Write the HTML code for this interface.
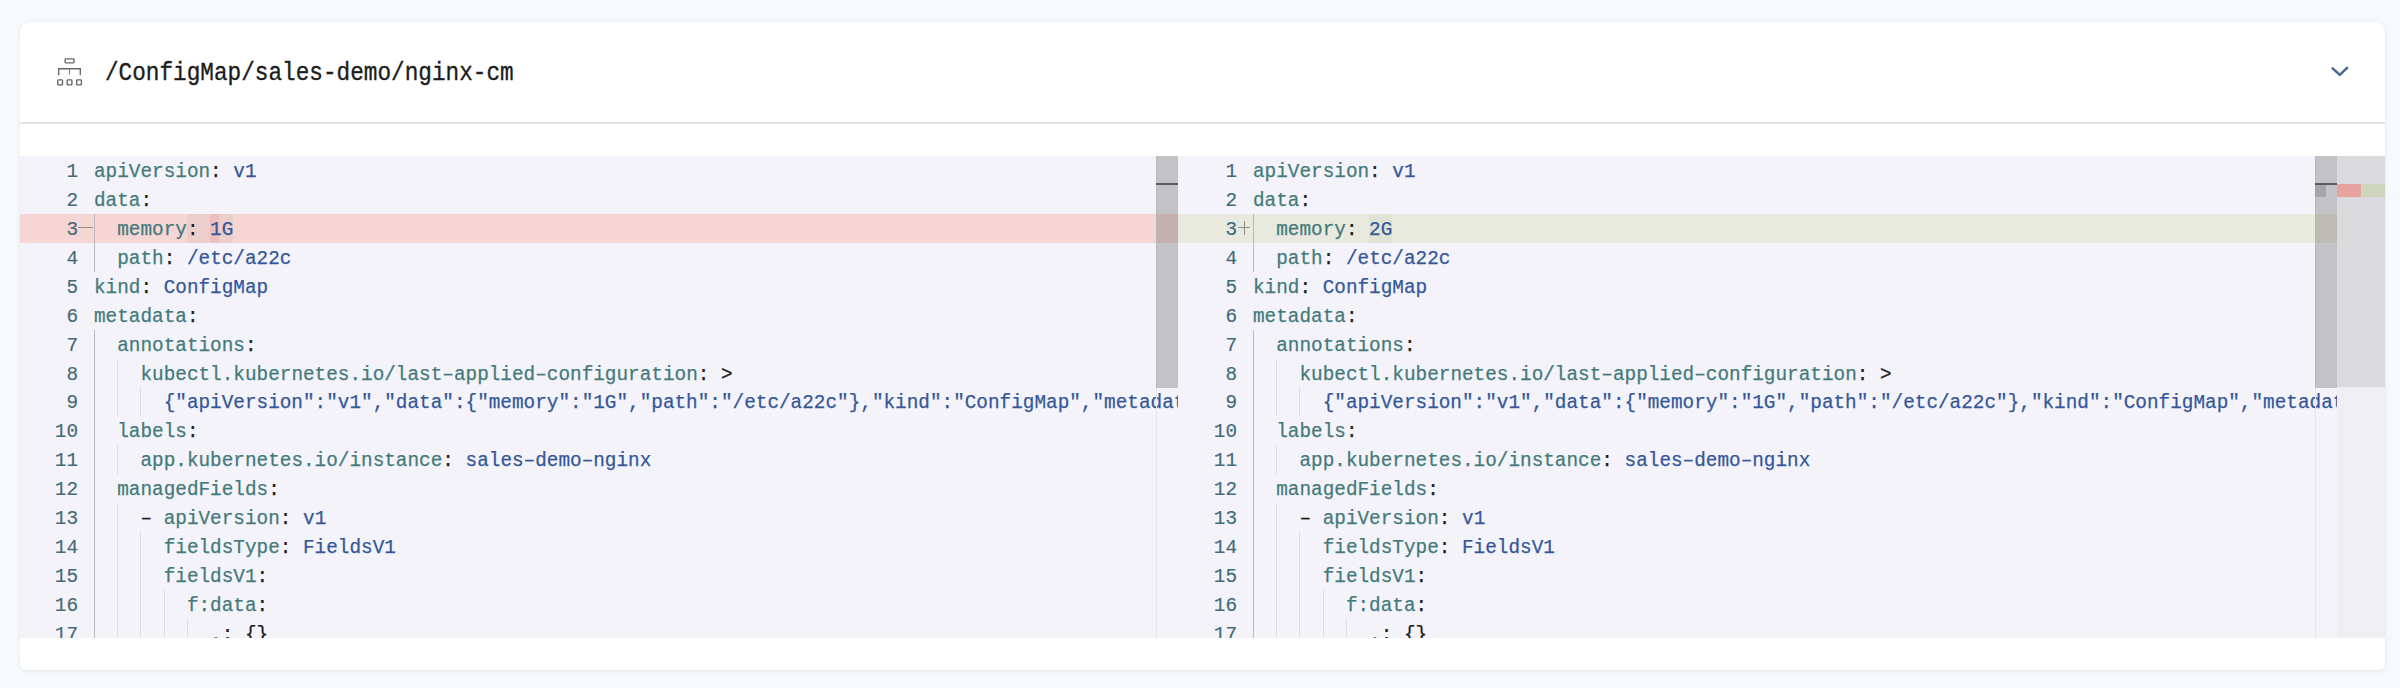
<!DOCTYPE html>
<html><head><meta charset="utf-8">
<style>
*{margin:0;padding:0;box-sizing:border-box}
html,body{width:2400px;height:688px;overflow:hidden;background:#f6fafc}
.card{position:absolute;left:20px;top:22px;width:2365px;height:648px;background:#fff;border-radius:10px 10px 6px 6px;box-shadow:0 1px 3px rgba(0,0,0,0.07),0 0 8px rgba(30,50,80,0.04)}
.hdr-line{position:absolute;left:20px;top:122.4px;width:2365px;height:2px;background:#e1e2e4}
.title{position:absolute;left:105px;top:52.5px;height:40px;font-family:"Liberation Mono",monospace;font-size:26.5px;line-height:40px;color:#1c1c1c;white-space:pre;transform-origin:0 0;transform:scaleX(0.8565);-webkit-text-stroke:0.35px #1c1c1c}
.ed{position:absolute;top:156px;height:482px;overflow:hidden;background:#f3f3f9}
.ln{position:absolute;height:28.93px;white-space:pre}
.tx{font-family:"Liberation Mono",monospace;font-size:20.5px;line-height:28.93px;transform-origin:0 0;transform:translateY(2.4px) scaleX(0.94376);white-space:pre;-webkit-text-stroke:0.25px currentColor}
.k{color:#447a7b} .v{color:#35579a} .p{color:#1e1e1e}
.num{position:absolute;width:60px;text-align:right;height:28.93px;font-family:"Liberation Mono",monospace;font-size:20.5px;line-height:28.93px;color:#426a78;white-space:pre;transform-origin:100% 0;transform:translateY(2.4px) scaleX(0.94376);-webkit-text-stroke:0.15px currentColor}
.num span{display:inline-block}
.ig{position:absolute;width:1px;height:28.93px;background:#dcdce2}
.ig.act{background:#b8b8bf}
</style></head><body>
<div class="card"></div>
<div class="hdr-line"></div>
<svg style="position:absolute;left:54px;top:55px" width="32" height="34" viewBox="54 55 32 34">
 <g fill="none" stroke="#666" stroke-width="1.35">
  <rect x="65.1" y="58.9" width="8.9" height="3.9" rx="0.7"/>
  <path d="M58.7 75.2 V68.7 H80.3 V75.2"/>
  <rect x="57.8" y="79.9" width="4.7" height="5" rx="0.7"/>
  <rect x="67.2" y="79.9" width="4.7" height="5" rx="0.7"/>
  <rect x="76.7" y="79.9" width="4.7" height="5" rx="0.7"/>
 </g>
 <path d="M69.5 68.7 V74.6" stroke="#8a8a8a" stroke-width="1.2"/>
</svg>
<div class="title">/ConfigMap/sales-demo/nginx-cm</div>
<svg style="position:absolute;left:2328px;top:62px" width="24" height="18" viewBox="0 0 24 18">
 <path d="M4.6 6.4 L11.8 12.9 L19.1 5.8" fill="none" stroke="#48698a" stroke-width="2.5" stroke-linecap="round" stroke-linejoin="round"/>
</svg>

<!-- left editor -->
<div class="ed" style="left:20px;width:1158px">
 <div style="position:absolute;left:0;top:57.86px;width:1158px;height:28.93px;background:#f5d6d4"></div>
 <div style="position:absolute;left:166.9px;top:57.86px;width:46.4px;height:28.93px;background:rgba(110,80,80,0.06)"></div>
 <div style="position:absolute;left:190.1px;top:57.86px;width:9px;height:28.93px;background:rgba(255,40,40,0.08)"></div>
 <div style="position:absolute;left:58px;top:71.36px;width:14.5px;height:1px;background:#a88a8a"></div>
 <div class="ln" style="top:0.0px;left:74px"><div class="tx"><span class="k">apiVersion</span><span class="p">:</span><span class="v"> v1</span></div></div>
<div class="num" style="top:0.0px;left:-2px">1</div>
<div class="ln" style="top:28.93px;left:74px"><div class="tx"><span class="k">data</span><span class="p">:</span></div></div>
<div class="num" style="top:28.93px;left:-2px">2</div>
<div class="ln" style="top:57.86px;left:74px"><div class="tx">  <span class="k">memory</span><span class="p">:</span><span class="v"> 1G</span></div></div>
<div class="num" style="top:57.86px;left:-2px">3</div>
<div class="ig act" style="top:57.86px;left:74.00px"></div>
<div class="ln" style="top:86.78999999999999px;left:74px"><div class="tx">  <span class="k">path</span><span class="p">:</span><span class="v"> /etc/a22c</span></div></div>
<div class="num" style="top:86.78999999999999px;left:-2px">4</div>
<div class="ig act" style="top:86.78999999999999px;left:74.00px"></div>
<div class="ln" style="top:115.72px;left:74px"><div class="tx"><span class="k">kind</span><span class="p">:</span><span class="v"> ConfigMap</span></div></div>
<div class="num" style="top:115.72px;left:-2px">5</div>
<div class="ln" style="top:144.65px;left:74px"><div class="tx"><span class="k">metadata</span><span class="p">:</span></div></div>
<div class="num" style="top:144.65px;left:-2px">6</div>
<div class="ln" style="top:173.57999999999998px;left:74px"><div class="tx">  <span class="k">annotations</span><span class="p">:</span></div></div>
<div class="num" style="top:173.57999999999998px;left:-2px">7</div>
<div class="ig act" style="top:173.57999999999998px;left:74.00px"></div>
<div class="ln" style="top:202.51px;left:74px"><div class="tx">    <span class="k">kubectl.kubernetes.io/last–applied–configuration</span><span class="p">: &gt;</span></div></div>
<div class="num" style="top:202.51px;left:-2px">8</div>
<div class="ig act" style="top:202.51px;left:74.00px"></div>
<div class="ig" style="top:202.51px;left:97.22px"></div>
<div class="ln" style="top:231.44px;left:74px"><div class="tx">      <span class="v">{&quot;apiVersion&quot;:&quot;v1&quot;,&quot;data&quot;:{&quot;memory&quot;:&quot;1G&quot;,&quot;path&quot;:&quot;/etc/a22c&quot;},&quot;kind&quot;:&quot;ConfigMap&quot;,&quot;metadata&quot;:{&quot;annotations&quot;:{},&quot;labels&quot;:</span></div></div>
<div class="num" style="top:231.44px;left:-2px">9</div>
<div class="ig act" style="top:231.44px;left:74.00px"></div>
<div class="ig" style="top:231.44px;left:97.22px"></div>
<div class="ig" style="top:231.44px;left:120.44px"></div>
<div class="ln" style="top:260.37px;left:74px"><div class="tx">  <span class="k">labels</span><span class="p">:</span></div></div>
<div class="num" style="top:260.37px;left:-2px">10</div>
<div class="ig act" style="top:260.37px;left:74.00px"></div>
<div class="ln" style="top:289.3px;left:74px"><div class="tx">    <span class="k">app.kubernetes.io/instance</span><span class="p">:</span><span class="v"> sales–demo–nginx</span></div></div>
<div class="num" style="top:289.3px;left:-2px">11</div>
<div class="ig act" style="top:289.3px;left:74.00px"></div>
<div class="ig" style="top:289.3px;left:97.22px"></div>
<div class="ln" style="top:318.23px;left:74px"><div class="tx">  <span class="k">managedFields</span><span class="p">:</span></div></div>
<div class="num" style="top:318.23px;left:-2px">12</div>
<div class="ig act" style="top:318.23px;left:74.00px"></div>
<div class="ln" style="top:347.15999999999997px;left:74px"><div class="tx">    <span class="p">– </span><span class="k">apiVersion</span><span class="p">:</span><span class="v"> v1</span></div></div>
<div class="num" style="top:347.15999999999997px;left:-2px">13</div>
<div class="ig act" style="top:347.15999999999997px;left:74.00px"></div>
<div class="ig" style="top:347.15999999999997px;left:97.22px"></div>
<div class="ln" style="top:376.09px;left:74px"><div class="tx">      <span class="k">fieldsType</span><span class="p">:</span><span class="v"> FieldsV1</span></div></div>
<div class="num" style="top:376.09px;left:-2px">14</div>
<div class="ig act" style="top:376.09px;left:74.00px"></div>
<div class="ig" style="top:376.09px;left:97.22px"></div>
<div class="ig" style="top:376.09px;left:120.44px"></div>
<div class="ln" style="top:405.02px;left:74px"><div class="tx">      <span class="k">fieldsV1</span><span class="p">:</span></div></div>
<div class="num" style="top:405.02px;left:-2px">15</div>
<div class="ig act" style="top:405.02px;left:74.00px"></div>
<div class="ig" style="top:405.02px;left:97.22px"></div>
<div class="ig" style="top:405.02px;left:120.44px"></div>
<div class="ln" style="top:433.95px;left:74px"><div class="tx">        <span class="k">f:data</span><span class="p">:</span></div></div>
<div class="num" style="top:433.95px;left:-2px">16</div>
<div class="ig act" style="top:433.95px;left:74.00px"></div>
<div class="ig" style="top:433.95px;left:97.22px"></div>
<div class="ig" style="top:433.95px;left:120.44px"></div>
<div class="ig" style="top:433.95px;left:143.66px"></div>
<div class="ln" style="top:462.88px;left:74px"><div class="tx">          <span class="k">.</span><span class="p">: {}</span></div></div>
<div class="num" style="top:462.88px;left:-2px">17</div>
<div class="ig act" style="top:462.88px;left:74.00px"></div>
<div class="ig" style="top:462.88px;left:97.22px"></div>
<div class="ig" style="top:462.88px;left:120.44px"></div>
<div class="ig" style="top:462.88px;left:143.66px"></div>
<div class="ig" style="top:462.88px;left:166.88px"></div>
 <!-- scrollbar -->
 <div style="position:absolute;left:1136px;top:0;width:22px;height:482px;border-left:1px solid #e4e4ea"></div>
 <div style="position:absolute;left:1136px;top:0;width:22px;height:231.5px;background:rgba(106,106,103,0.35)"></div>
 <div style="position:absolute;left:1136px;top:26.5px;width:22px;height:2.5px;background:#5b5b60"></div>
</div>

<!-- right editor -->
<div class="ed" style="left:1178px;width:1207px">
 <div style="position:absolute;left:0;top:57.86px;width:1159px;height:28.93px;background:#e8e9df"></div>
 <div style="position:absolute;left:191.1px;top:57.86px;width:23.2px;height:28.93px;background:rgba(120,170,100,0.07)"></div>
 <div style="position:absolute;left:59.5px;top:71.36px;width:12.5px;height:1px;background:#8c9080"></div>
 <div style="position:absolute;left:65.5px;top:64.86px;width:1px;height:14px;background:#8c9080"></div>
 <div class="ln" style="top:0.0px;left:75px"><div class="tx"><span class="k">apiVersion</span><span class="p">:</span><span class="v"> v1</span></div></div>
<div class="num" style="top:0.0px;left:-1.5px">1</div>
<div class="ln" style="top:28.93px;left:75px"><div class="tx"><span class="k">data</span><span class="p">:</span></div></div>
<div class="num" style="top:28.93px;left:-1.5px">2</div>
<div class="ln" style="top:57.86px;left:75px"><div class="tx">  <span class="k">memory</span><span class="p">:</span><span class="v"> 2G</span></div></div>
<div class="num" style="top:57.86px;left:-1.5px">3</div>
<div class="ig act" style="top:57.86px;left:75.00px"></div>
<div class="ln" style="top:86.78999999999999px;left:75px"><div class="tx">  <span class="k">path</span><span class="p">:</span><span class="v"> /etc/a22c</span></div></div>
<div class="num" style="top:86.78999999999999px;left:-1.5px">4</div>
<div class="ig act" style="top:86.78999999999999px;left:75.00px"></div>
<div class="ln" style="top:115.72px;left:75px"><div class="tx"><span class="k">kind</span><span class="p">:</span><span class="v"> ConfigMap</span></div></div>
<div class="num" style="top:115.72px;left:-1.5px">5</div>
<div class="ln" style="top:144.65px;left:75px"><div class="tx"><span class="k">metadata</span><span class="p">:</span></div></div>
<div class="num" style="top:144.65px;left:-1.5px">6</div>
<div class="ln" style="top:173.57999999999998px;left:75px"><div class="tx">  <span class="k">annotations</span><span class="p">:</span></div></div>
<div class="num" style="top:173.57999999999998px;left:-1.5px">7</div>
<div class="ig act" style="top:173.57999999999998px;left:75.00px"></div>
<div class="ln" style="top:202.51px;left:75px"><div class="tx">    <span class="k">kubectl.kubernetes.io/last–applied–configuration</span><span class="p">: &gt;</span></div></div>
<div class="num" style="top:202.51px;left:-1.5px">8</div>
<div class="ig act" style="top:202.51px;left:75.00px"></div>
<div class="ig" style="top:202.51px;left:98.22px"></div>
<div class="ln" style="top:231.44px;left:75px"><div class="tx">      <span class="v">{&quot;apiVersion&quot;:&quot;v1&quot;,&quot;data&quot;:{&quot;memory&quot;:&quot;1G&quot;,&quot;path&quot;:&quot;/etc/a22c&quot;},&quot;kind&quot;:&quot;ConfigMap&quot;,&quot;metadata&quot;:{&quot;annotations&quot;:{},&quot;labels&quot;:</span></div></div>
<div class="num" style="top:231.44px;left:-1.5px">9</div>
<div class="ig act" style="top:231.44px;left:75.00px"></div>
<div class="ig" style="top:231.44px;left:98.22px"></div>
<div class="ig" style="top:231.44px;left:121.44px"></div>
<div class="ln" style="top:260.37px;left:75px"><div class="tx">  <span class="k">labels</span><span class="p">:</span></div></div>
<div class="num" style="top:260.37px;left:-1.5px">10</div>
<div class="ig act" style="top:260.37px;left:75.00px"></div>
<div class="ln" style="top:289.3px;left:75px"><div class="tx">    <span class="k">app.kubernetes.io/instance</span><span class="p">:</span><span class="v"> sales–demo–nginx</span></div></div>
<div class="num" style="top:289.3px;left:-1.5px">11</div>
<div class="ig act" style="top:289.3px;left:75.00px"></div>
<div class="ig" style="top:289.3px;left:98.22px"></div>
<div class="ln" style="top:318.23px;left:75px"><div class="tx">  <span class="k">managedFields</span><span class="p">:</span></div></div>
<div class="num" style="top:318.23px;left:-1.5px">12</div>
<div class="ig act" style="top:318.23px;left:75.00px"></div>
<div class="ln" style="top:347.15999999999997px;left:75px"><div class="tx">    <span class="p">– </span><span class="k">apiVersion</span><span class="p">:</span><span class="v"> v1</span></div></div>
<div class="num" style="top:347.15999999999997px;left:-1.5px">13</div>
<div class="ig act" style="top:347.15999999999997px;left:75.00px"></div>
<div class="ig" style="top:347.15999999999997px;left:98.22px"></div>
<div class="ln" style="top:376.09px;left:75px"><div class="tx">      <span class="k">fieldsType</span><span class="p">:</span><span class="v"> FieldsV1</span></div></div>
<div class="num" style="top:376.09px;left:-1.5px">14</div>
<div class="ig act" style="top:376.09px;left:75.00px"></div>
<div class="ig" style="top:376.09px;left:98.22px"></div>
<div class="ig" style="top:376.09px;left:121.44px"></div>
<div class="ln" style="top:405.02px;left:75px"><div class="tx">      <span class="k">fieldsV1</span><span class="p">:</span></div></div>
<div class="num" style="top:405.02px;left:-1.5px">15</div>
<div class="ig act" style="top:405.02px;left:75.00px"></div>
<div class="ig" style="top:405.02px;left:98.22px"></div>
<div class="ig" style="top:405.02px;left:121.44px"></div>
<div class="ln" style="top:433.95px;left:75px"><div class="tx">        <span class="k">f:data</span><span class="p">:</span></div></div>
<div class="num" style="top:433.95px;left:-1.5px">16</div>
<div class="ig act" style="top:433.95px;left:75.00px"></div>
<div class="ig" style="top:433.95px;left:98.22px"></div>
<div class="ig" style="top:433.95px;left:121.44px"></div>
<div class="ig" style="top:433.95px;left:144.66px"></div>
<div class="ln" style="top:462.88px;left:75px"><div class="tx">          <span class="k">.</span><span class="p">: {}</span></div></div>
<div class="num" style="top:462.88px;left:-1.5px">17</div>
<div class="ig act" style="top:462.88px;left:75.00px"></div>
<div class="ig" style="top:462.88px;left:98.22px"></div>
<div class="ig" style="top:462.88px;left:121.44px"></div>
<div class="ig" style="top:462.88px;left:144.66px"></div>
<div class="ig" style="top:462.88px;left:167.88px"></div>
 <div style="position:absolute;left:1137px;top:0;width:22px;height:482px;border-left:1px solid #e4e4ea"></div>
 <div style="position:absolute;left:1137px;top:0;width:22px;height:231.5px;background:rgba(106,106,103,0.35)"></div>
 <div style="position:absolute;left:1137px;top:26.5px;width:22px;height:2.5px;background:#5b5b60"></div>
 <div style="position:absolute;left:1137px;top:28px;width:11px;height:13px;background:rgba(80,80,85,0.25)"></div>
 <div style="position:absolute;left:1159px;top:0;width:48px;height:482px;background:#eeeef3"></div>
 <div style="position:absolute;left:1159px;top:0;width:48px;height:231px;background:#dadadd"></div>
 <div style="position:absolute;left:1159px;top:28px;width:24px;height:13px;background:#e6a3a0"></div>
 <div style="position:absolute;left:1183px;top:28px;width:24px;height:13px;background:#cfd4bd"></div>
</div>
</body></html>
